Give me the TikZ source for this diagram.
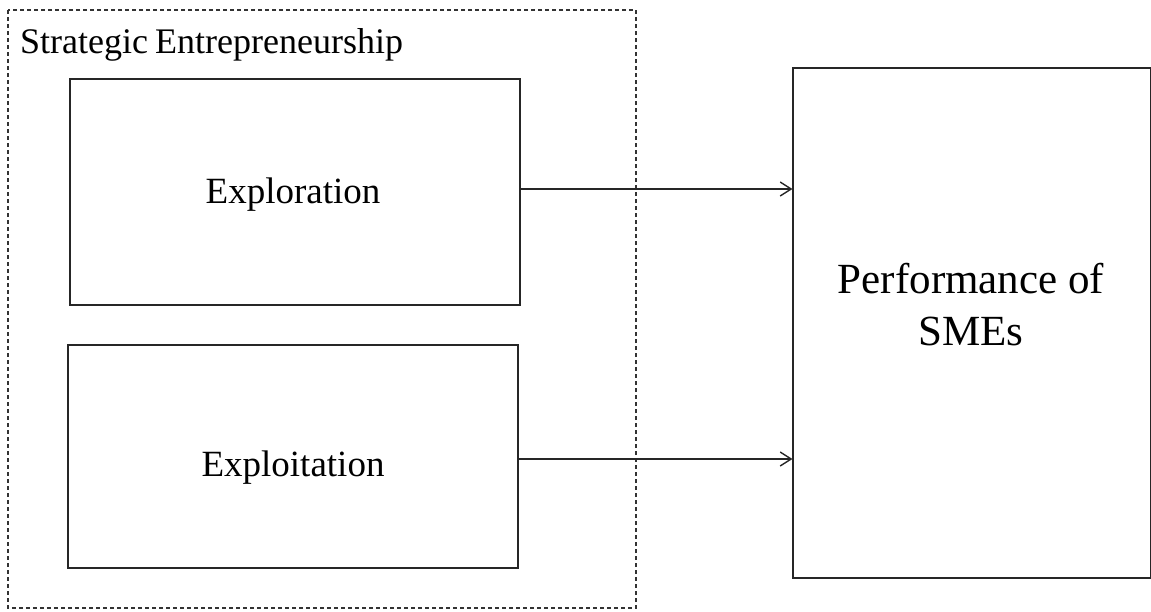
\documentclass[tikz,border=0pt]{standalone}
\usepackage{fontspec}
\setmainfont{Liberation Serif}
\usetikzlibrary{arrows.meta}
\begin{document}
\begin{tikzpicture}[x=1pt,y=-1pt,
  box/.style={draw=black!85,line width=1.1pt,inner sep=0pt},
  group/.style={draw=black!80,line width=1.2pt,dash pattern=on 4pt off 3pt},
  link/.style={draw=black!85,line width=1.1pt,-{Straight Barb[length=11pt,width=14pt,line width=1.4pt]}}]
  \useasboundingbox (0,0) rectangle (1151,611);
  % grouping frame with its caption
  \draw[group] (8,10) rectangle (636,608);
  \node[anchor=base west,font=\fontsize{36}{40}\selectfont,inner sep=0pt] (title) at (20,53) {Strategic\kern-2pt\ Entrepreneurship};
  % the two dimensions
  \node[box,minimum width=450pt,minimum height=226pt] (explor) at (295,192) {};
  \node[font=\fontsize{37}{42}\selectfont] (explortxt) at (293,195) {Exploration};
  \node[box,minimum width=450pt,minimum height=223pt] (exploit) at (293,456.5) {};
  \node[font=\fontsize{37}{42}\selectfont] (exploittxt) at (293,468) {Exploitation};
  % outcome
  \node[box,minimum width=358pt,minimum height=510pt] (perf) at (972,323) {};
  \node[font=\fontsize{43}{52}\selectfont,align=center] (perftxt) at (971,305) {Performance of\\SMEs};
  % relations
  \draw[link] (explor.east |- 0,189) coordinate (a1) -- (perf.west |- a1);
  \draw[link] (exploit.east |- 0,459) coordinate (a2) -- (perf.west |- a2);
\end{tikzpicture}
\end{document}
